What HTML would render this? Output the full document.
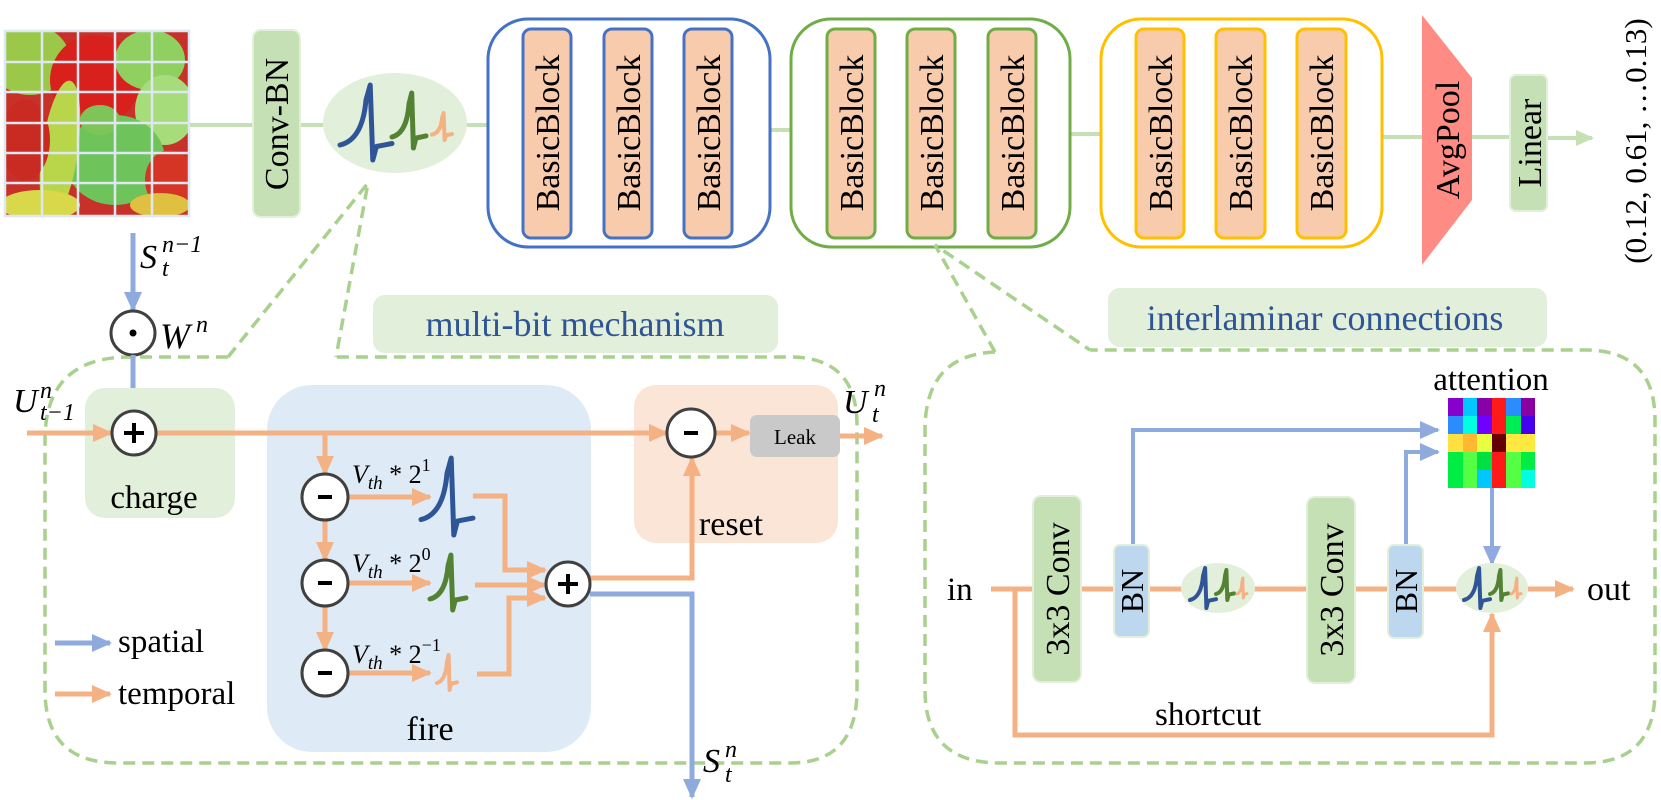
<!DOCTYPE html>
<html><head><meta charset="utf-8"><style>
html,body{margin:0;padding:0;background:#fff;}
svg{display:block;}
text{font-family:"Liberation Serif",serif;fill:#000;}
.it{font-style:italic;}
</style></head><body>
<svg id="s" width="1661" height="800" viewBox="0 0 1661 800" xmlns="http://www.w3.org/2000/svg" font-family="Liberation Serif, serif">
<defs>
<marker id="ao" markerWidth="20" markerHeight="18" refX="18" refY="9" orient="auto" markerUnits="userSpaceOnUse"><path d="M0,0 L20,9 L0,18 z" fill="#f4b183"/></marker>
<marker id="ab" markerWidth="20" markerHeight="18" refX="18" refY="9" orient="auto" markerUnits="userSpaceOnUse"><path d="M0,0 L20,9 L0,18 z" fill="#8faadc"/></marker>
<marker id="ag" markerWidth="18" markerHeight="16" refX="16" refY="8" orient="auto" markerUnits="userSpaceOnUse"><path d="M0,0 L18,8 L0,16 z" fill="#c5e0b4"/></marker>
<clipPath id="imgc"><rect x="4" y="30" width="186" height="187"/></clipPath>
</defs>

<g clip-path="url(#imgc)">
<rect x="4" y="30" width="186" height="187" fill="#c8302a"/>
<ellipse cx="30" cy="60" rx="40" ry="35" fill="#9cc84a"/>
<ellipse cx="95" cy="80" rx="45" ry="45" fill="#d8201c"/>
<ellipse cx="150" cy="60" rx="35" ry="30" fill="#8fd060"/>
<ellipse cx="165" cy="110" rx="30" ry="35" fill="#a7dc7a"/>
<ellipse cx="115" cy="160" rx="50" ry="45" fill="#6ec45a"/>
<ellipse cx="60" cy="150" rx="18" ry="70" fill="#b9d64a" transform="rotate(8 60 150)"/>
<ellipse cx="25" cy="140" rx="25" ry="40" fill="#c92a22"/>
<ellipse cx="170" cy="180" rx="25" ry="30" fill="#d53525"/>
<ellipse cx="40" cy="205" rx="40" ry="15" fill="#d8d84a"/>
<ellipse cx="160" cy="205" rx="30" ry="12" fill="#e0c040"/>
<ellipse cx="100" cy="120" rx="20" ry="15" fill="#7fc458"/>
</g>
<g stroke="#dde8f4" stroke-width="2.5">
<line x1="4" y1="31" x2="190" y2="31"/><line x1="4" y1="62" x2="190" y2="62"/><line x1="4" y1="92" x2="190" y2="92"/><line x1="4" y1="123" x2="190" y2="123"/><line x1="4" y1="153" x2="190" y2="153"/><line x1="4" y1="183" x2="190" y2="183"/><line x1="4" y1="216" x2="190" y2="216"/>
<line x1="5" y1="30" x2="5" y2="217"/><line x1="42" y1="30" x2="42" y2="217"/><line x1="78" y1="30" x2="78" y2="217"/><line x1="115" y1="30" x2="115" y2="217"/><line x1="152" y1="30" x2="152" y2="217"/><line x1="189" y1="30" x2="189" y2="217"/>
</g>

<g stroke="#c5e0b4" stroke-width="4" fill="none">
<line x1="190" y1="125" x2="253" y2="125"/><line x1="300" y1="125" x2="323" y2="125"/>
<line x1="467" y1="125" x2="488" y2="125"/><line x1="770" y1="130" x2="791" y2="130"/>
<line x1="1070" y1="134" x2="1101" y2="134"/><line x1="1382" y1="137" x2="1422" y2="137"/>
<line x1="1472" y1="137" x2="1510" y2="137"/><line x1="1547" y1="138" x2="1592" y2="138" marker-end="url(#ag)"/>
</g>

<rect x="253" y="30" width="47" height="187" rx="8" fill="#c5e0b4" stroke="#e2efda" stroke-width="2"/>
<text transform="translate(288,124) rotate(-90)" font-size="34" text-anchor="middle">Conv-BN</text>
<ellipse cx="395" cy="123" rx="72" ry="50" fill="#e2efda"/>

<rect x="488" y="19" width="282" height="228" rx="40" fill="none" stroke="#4472c4" stroke-width="3"/>
<rect x="791" y="19" width="279" height="228" rx="40" fill="none" stroke="#70ad47" stroke-width="3"/>
<rect x="1101" y="19" width="281" height="228" rx="40" fill="none" stroke="#ffc000" stroke-width="3"/>
<g stroke-width="3" fill="#f8cbad">
<rect x="523" y="29" width="48" height="209" rx="8" stroke="#4472c4"/>
<rect x="604" y="29" width="48" height="209" rx="8" stroke="#4472c4"/>
<rect x="684" y="29" width="48" height="209" rx="8" stroke="#4472c4"/>
<rect x="827" y="29" width="48" height="209" rx="8" stroke="#70ad47"/>
<rect x="907" y="29" width="48" height="209" rx="8" stroke="#70ad47"/>
<rect x="988" y="29" width="48" height="209" rx="8" stroke="#70ad47"/>
<rect x="1136" y="29" width="48" height="209" rx="8" stroke="#ffc000"/>
<rect x="1216" y="29" width="49" height="209" rx="8" stroke="#ffc000"/>
<rect x="1297" y="29" width="49" height="209" rx="8" stroke="#ffc000"/>
</g>
<g font-size="34" text-anchor="middle">
<text transform="translate(559,133) rotate(-90)">BasicBlock</text>
<text transform="translate(640,133) rotate(-90)">BasicBlock</text>
<text transform="translate(720,133) rotate(-90)">BasicBlock</text>
<text transform="translate(863,133) rotate(-90)">BasicBlock</text>
<text transform="translate(943,133) rotate(-90)">BasicBlock</text>
<text transform="translate(1024,133) rotate(-90)">BasicBlock</text>
<text transform="translate(1172,133) rotate(-90)">BasicBlock</text>
<text transform="translate(1252,133) rotate(-90)">BasicBlock</text>
<text transform="translate(1333,133) rotate(-90)">BasicBlock</text>
</g>

<polygon points="1422,15 1472,78 1472,200 1422,265" fill="#ff8b85"/>
<text transform="translate(1459,140) rotate(-90)" font-size="34" text-anchor="middle">AvgPool</text>
<rect x="1510" y="75" width="37" height="136" rx="6" fill="#c5e0b4" stroke="#e2efda" stroke-width="2"/>
<text transform="translate(1541,143) rotate(-90)" font-size="34" text-anchor="middle">Linear</text>
<text transform="translate(1646,141) rotate(-90)" font-size="31" text-anchor="middle">(0.12, 0.61, …0.13)</text>

<rect x="373" y="295" width="405" height="58" rx="12" fill="#e2efda"/>
<text x="575" y="336" font-size="36" text-anchor="middle" style="fill:#2f5597">multi-bit mechanism</text>
<rect x="1108" y="288" width="439" height="59" rx="12" fill="#e2efda"/>
<text x="1325" y="330" font-size="36" text-anchor="middle" style="fill:#2f5597">interlaminar connections</text>

<g fill="none" stroke="#a9d18e" stroke-width="3.5" stroke-dasharray="12 7">
<path d="M228,357 L130,357 Q45,357 45,440 L45,690 Q45,763 118,763 L790,763 Q857,763 857,690 L857,425 Q857,357 790,357 L336,357"/>
<path d="M228,357 L368,183 L336,357"/>
<path d="M995,352 Q925,355 925,430 L925,690 Q925,763 1000,763 L1585,763 Q1655,763 1655,690 L1655,420 Q1655,350 1585,350 L1090,350"/>
<path d="M995,352 L935,245 L1090,350"/>
</g>

<text x="140" y="268" font-size="34" class="it">S</text>
<text x="162" y="252" font-size="24" class="it">n−1</text>
<text x="162" y="276" font-size="24" class="it">t</text>
<line x1="133" y1="233" x2="133" y2="310" stroke="#8faadc" stroke-width="5" marker-end="url(#ab)"/>
<circle cx="133" cy="333" r="22" fill="#fff" stroke="#404040" stroke-width="3"/>
<circle cx="133" cy="333" r="3.5" fill="#000"/>
<text x="160" y="348" font-size="36" class="it">W</text>
<text x="196" y="332" font-size="24" class="it">n</text>
<line x1="133" y1="355" x2="133" y2="410" stroke="#8faadc" stroke-width="5" marker-end="url(#ab)"/>

<rect x="85" y="388" width="150" height="130" rx="20" fill="#e2efda"/>
<text x="154" y="508" font-size="33" text-anchor="middle">charge</text>
<text x="13" y="412" font-size="34" class="it">U</text>
<text x="40" y="398" font-size="24" class="it">n</text>
<text x="40" y="420" font-size="24" class="it">t−1</text>

<rect x="267" y="385" width="324" height="367" rx="45" fill="#deebf7"/>
<text x="430" y="740" font-size="34" text-anchor="middle">fire</text>
<rect x="634" y="385" width="204" height="158" rx="22" fill="#fbe5d6"/>
<text x="731" y="535" font-size="34" text-anchor="middle">reset</text>

<g fill="none" stroke="#f4b183" stroke-width="5">
<line x1="27" y1="433" x2="111" y2="433" marker-end="url(#ao)"/>
<line x1="156" y1="433" x2="667" y2="433" marker-end="url(#ao)"/>
<line x1="325" y1="433" x2="325" y2="474" marker-end="url(#ao)"/>
<line x1="325" y1="520" x2="325" y2="560" marker-end="url(#ao)"/>
<line x1="325" y1="606" x2="325" y2="650" marker-end="url(#ao)"/>
<line x1="348" y1="497" x2="430" y2="497" marker-end="url(#ao)"/>
<line x1="348" y1="583" x2="430" y2="583" marker-end="url(#ao)"/>
<line x1="348" y1="673" x2="430" y2="673" marker-end="url(#ao)"/>
<path d="M473,496 L505,496 L505,570 L545,570" marker-end="url(#ao)"/>
<path d="M475,585 L545,585" marker-end="url(#ao)"/>
<path d="M477,674 L509,674 L509,598 L545,598" marker-end="url(#ao)"/>
<path d="M590,578 L692,578 L692,458" marker-end="url(#ao)"/>
<line x1="715" y1="433" x2="749" y2="433" marker-end="url(#ao)"/>
<line x1="840" y1="436" x2="882" y2="436" marker-end="url(#ao)"/>
</g>
<path d="M590,594 L692,594 L692,797" fill="none" stroke="#8faadc" stroke-width="5" marker-end="url(#ab)"/>
<text x="703" y="772" font-size="34" class="it">S</text>
<text x="725" y="757" font-size="24" class="it">n</text>
<text x="725" y="782" font-size="24" class="it">t</text>

<g fill="#fff" stroke="#404040" stroke-width="3">
<circle cx="134" cy="433" r="22"/>
<circle cx="325" cy="497" r="23"/>
<circle cx="325" cy="583" r="23"/>
<circle cx="325" cy="673" r="23"/>
<circle cx="568" cy="584" r="22"/>
<circle cx="691" cy="433" r="24"/>
</g>
<g stroke="#000" stroke-width="4">
<line x1="124" y1="433" x2="144" y2="433"/><line x1="134" y1="423" x2="134" y2="443"/>
<line x1="558" y1="584" x2="578" y2="584"/><line x1="568" y1="574" x2="568" y2="594"/>
<line x1="318" y1="497" x2="332" y2="497"/><line x1="318" y1="583" x2="332" y2="583"/><line x1="318" y1="673" x2="332" y2="673"/>
<line x1="684" y1="433" x2="698" y2="433"/>
</g>

<g font-size="26">
<text x="352" y="483"><tspan class="it">V</tspan><tspan class="it" font-size="19" dy="6">th</tspan><tspan dy="-6"> * 2</tspan><tspan font-size="18" dy="-12">1</tspan></text>
<text x="352" y="572"><tspan class="it">V</tspan><tspan class="it" font-size="19" dy="6">th</tspan><tspan dy="-6"> * 2</tspan><tspan font-size="18" dy="-12">0</tspan></text>
<text x="352" y="663"><tspan class="it">V</tspan><tspan class="it" font-size="19" dy="6">th</tspan><tspan dy="-6"> * 2</tspan><tspan font-size="18" dy="-12">−1</tspan></text>
</g>
<rect x="750" y="415" width="90" height="42" rx="7" fill="#c9c9c9"/>
<text x="795" y="444" font-size="21" text-anchor="middle">Leak</text>
<text x="843" y="413" font-size="34" class="it">U</text>
<text x="874" y="396" font-size="24" class="it">n</text>
<text x="872" y="422" font-size="24" class="it">t</text>

<line x1="55" y1="643" x2="110" y2="643" stroke="#8faadc" stroke-width="5" marker-end="url(#ab)"/>
<text x="118" y="652" font-size="33">spatial</text>
<line x1="55" y1="694" x2="110" y2="694" stroke="#f4b183" stroke-width="5" marker-end="url(#ao)"/>
<text x="118" y="704" font-size="33">temporal</text>

<text x="947" y="600" font-size="33">in</text>
<line x1="991" y1="589" x2="1460" y2="589" stroke="#f4b183" stroke-width="5"/>
<path d="M1015,589 L1015,735 L1492,735 L1492,614" fill="none" stroke="#f4b183" stroke-width="5" marker-end="url(#ao)"/>
<text x="1155" y="725" font-size="33">shortcut</text>
<line x1="1528" y1="589" x2="1573" y2="589" stroke="#f4b183" stroke-width="5" marker-end="url(#ao)"/>
<text x="1587" y="600" font-size="34">out</text>

<rect x="1033" y="496" width="48" height="186" rx="8" fill="#c5e0b4" stroke="#e2efda" stroke-width="2"/>
<text transform="translate(1069,589) rotate(-90)" font-size="34" text-anchor="middle">3x3 Conv</text>
<rect x="1307" y="497" width="48" height="186" rx="8" fill="#c5e0b4" stroke="#e2efda" stroke-width="2"/>
<text transform="translate(1343,590) rotate(-90)" font-size="34" text-anchor="middle">3x3 Conv</text>

<path d="M1133,545 L1133,430 L1438,430" fill="none" stroke="#8faadc" stroke-width="4" marker-end="url(#ab)"/>
<path d="M1406,545 L1406,452 L1438,452" fill="none" stroke="#8faadc" stroke-width="4" marker-end="url(#ab)"/>
<line x1="1492" y1="488" x2="1492" y2="564" stroke="#8faadc" stroke-width="4" marker-end="url(#ab)"/>

<rect x="1114" y="545" width="35" height="92" rx="6" fill="#bdd7ee" stroke="#e2efda" stroke-width="2"/>
<text transform="translate(1143,591) rotate(-90)" font-size="32" text-anchor="middle">BN</text>
<rect x="1388" y="545" width="35" height="93" rx="6" fill="#bdd7ee" stroke="#e2efda" stroke-width="2"/>
<text transform="translate(1417,591) rotate(-90)" font-size="32" text-anchor="middle">BN</text>

<ellipse cx="1218" cy="588" rx="37" ry="25" fill="#e2efda"/>
<ellipse cx="1492" cy="588" rx="36" ry="25" fill="#e2efda"/>
<g id="spikes" fill="none" stroke-linejoin="round" stroke-linecap="round"></g>

<text x="1491" y="390" font-size="33" text-anchor="middle">attention</text>
<g>
<rect x="1448" y="398" width="15" height="18" fill="#8800cc"/><rect x="1463" y="398" width="14" height="18" fill="#00c8ff"/><rect x="1477" y="398" width="15" height="18" fill="#8800aa"/><rect x="1492" y="398" width="14" height="18" fill="#ff1a1a"/><rect x="1506" y="398" width="15" height="18" fill="#2b8cff"/><rect x="1521" y="398" width="14" height="18" fill="#8a00a0"/>
<rect x="1448" y="416" width="15" height="18" fill="#2b8cff"/><rect x="1463" y="416" width="14" height="18" fill="#00ffe0"/><rect x="1477" y="416" width="15" height="18" fill="#7000ff"/><rect x="1492" y="416" width="14" height="18" fill="#ff1a1a"/><rect x="1506" y="416" width="15" height="18" fill="#00ee55"/><rect x="1521" y="416" width="14" height="18" fill="#4400ee"/>
<rect x="1448" y="434" width="15" height="18" fill="#ffe040"/><rect x="1463" y="434" width="14" height="18" fill="#ffb830"/><rect x="1477" y="434" width="15" height="18" fill="#e8ff40"/><rect x="1492" y="434" width="14" height="18" fill="#650000"/><rect x="1506" y="434" width="15" height="18" fill="#ffe840"/><rect x="1521" y="434" width="14" height="18" fill="#ffe840"/>
<rect x="1448" y="452" width="15" height="18" fill="#00ee44"/><rect x="1463" y="452" width="14" height="18" fill="#55ff44"/><rect x="1477" y="452" width="15" height="18" fill="#00e040"/><rect x="1492" y="452" width="14" height="18" fill="#ff1a1a"/><rect x="1506" y="452" width="15" height="18" fill="#55ff44"/><rect x="1521" y="452" width="14" height="18" fill="#00ee44"/>
<rect x="1448" y="470" width="15" height="18" fill="#00ee44"/><rect x="1463" y="470" width="14" height="18" fill="#55ff44"/><rect x="1477" y="470" width="15" height="18" fill="#00c8ff"/><rect x="1492" y="470" width="14" height="18" fill="#ff1a1a"/><rect x="1506" y="470" width="15" height="18" fill="#55ff44"/><rect x="1521" y="470" width="14" height="18" fill="#00ffe0"/>
</g>
</svg>
<script>
(function(){
var g=document.getElementById('spikes');
var B="#2f5597",G="#548235",O="#f4b183";
var list=[
[340,85,52,75,B,5],[392,93,34,55,G,5],[432,113,20,27,O,4],
[421,458,52,77,B,5],[430,555,36,55,G,5],[437,655,20,35,O,4],
[1190,568,26,40,B,4],[1216,570,18,30,G,4],[1237,578,10,20,O,3],
[1464,568,26,40,B,4],[1490,570,18,30,G,4],[1511,578,10,20,O,3]];
function P(x,y,w,h,a,b){return (x+a*w).toFixed(1)+','+(y+b*h).toFixed(1);}
list.forEach(function(s){
var x=s[0],y=s[1],w=s[2],h=s[3];
var d='M'+P(x,y,w,h,0,0.8)+' C'+P(x,y,w,h,0.25,0.76)+' '+P(x,y,w,h,0.45,0.6)+' '+P(x,y,w,h,0.5,0.2)+' L'+P(x,y,w,h,0.58,0)+' L'+P(x,y,w,h,0.63,1)+' L'+P(x,y,w,h,0.7,0.82)+' L'+P(x,y,w,h,1,0.78);
var p=document.createElementNS('http://www.w3.org/2000/svg','path');
p.setAttribute('d',d);p.setAttribute('stroke',s[4]);p.setAttribute('stroke-width',s[5]);
g.appendChild(p);});
})();
</script>
</body></html>
